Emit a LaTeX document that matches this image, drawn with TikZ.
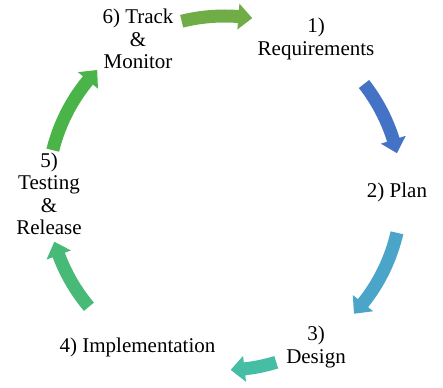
\documentclass[tikz,border=0pt]{standalone}
\usepackage{fontspec}
\setmainfont{Liberation Serif}
\newfontfamily\labelfont{Liberation Serif}
\definecolor{reqblue}{HTML}{4472C4}
\definecolor{planblue}{HTML}{4BA5C8}
\definecolor{designteal}{HTML}{46BEA6}
\definecolor{implgreen}{HTML}{48BA77}
\definecolor{testgreen}{HTML}{4BB448}
\definecolor{trackgreen}{HTML}{70AD47}
\tikzset{
  step label/.style={
    align=center,
    inner sep=0pt,
    font=\labelfont\fontsize{21}{22.5}\selectfont,
  },
}

\begin{document}
\begin{tikzpicture}[x=1pt, y=1pt]
        \useasboundingbox (0,0) rectangle (443,387);
        \coordinate (c) at (224.5,194);

        \node[step label] (req)    at (316,348)   {1)\\Requirements};
        \node[step label] (plan)   at (397,195)   {2) Plan};
        \node[step label] (design) at (316,40)    {3)\\Design};
        \node[step label] (impl)   at (137.5,40)  {4) Implementation};
        \node[step label] (test)   at (49,193)    {5)\\Testing\\\&\\Release};
        \node[step label] (track)  at (138,348)   {6) Track\\\&\\Monitor};

        % tail angle / tip angle / colour
        \foreach \s/\e/\col in {104/81/trackgreen, 38/13/reqblue, -13/-43/planblue,
                                -73/-88/designteal, -140/-164/implgreen, 166/136/testgreen}{
          \pgfmathsetmacro{\b}{\e+4.5}
          \fill[\col, shift={(c)}]
            (\s:183.5pt) arc[start angle=\s, end angle=\b, radius=183.5pt]
            -- (\b:190pt) -- (\e:177pt) -- (\b:164pt) -- (\b:170.5pt)
            arc[start angle=\b, end angle=\s, radius=170.5pt] -- cycle;
        }
      \end{tikzpicture}
\end{document}
